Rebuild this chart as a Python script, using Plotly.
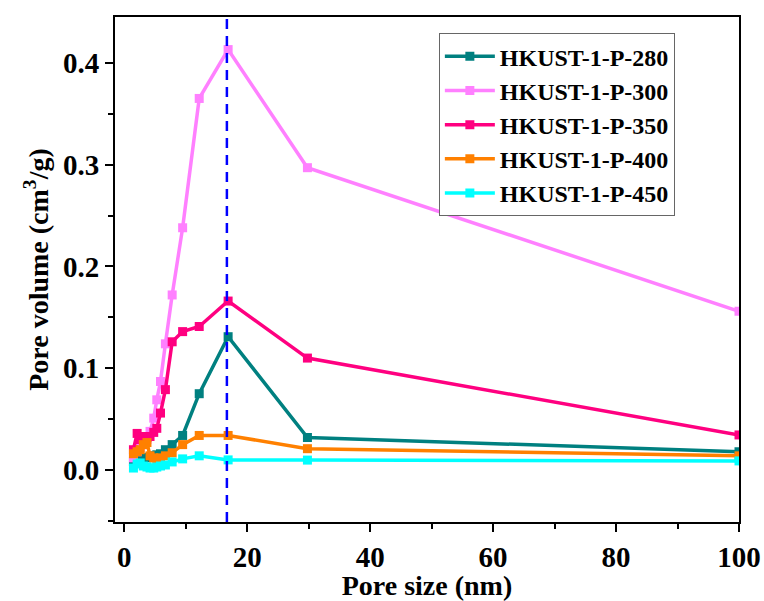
import plotly.graph_objects as go

pore_size = [1.5, 2.1, 2.6, 3.1, 3.7, 4.2, 4.8, 5.3, 5.9, 6.7, 7.8, 9.5, 12.2, 16.9, 29.8, 100]
series_names = ["HKUST-1-P-280", "HKUST-1-P-300", "HKUST-1-P-350", "HKUST-1-P-400", "HKUST-1-P-450"]
p280 = [0.008, 0.010, 0.011, 0.012, 0.012, 0.013, 0.014, 0.015, 0.016, 0.020, 0.025, 0.034, 0.075, 0.131, 0.032, 0.018]
p300 = [0.012, 0.018, 0.022, 0.025, 0.030, 0.038, 0.051, 0.069, 0.087, 0.124, 0.172, 0.238, 0.365, 0.413, 0.297, 0.156]
p350 = [0.020, 0.036, 0.030, 0.033, 0.032, 0.033, 0.037, 0.041, 0.056, 0.079, 0.126, 0.136, 0.141, 0.166, 0.110, 0.0345]
p400 = [0.016, 0.018, 0.020, 0.025, 0.027, 0.014, 0.012, 0.011, 0.012, 0.014, 0.017, 0.025, 0.034, 0.034, 0.021, 0.014]
p450 = [0.002, 0.006, 0.007, 0.004, 0.003, 0.002, 0.002, 0.003, 0.004, 0.005, 0.008, 0.011, 0.014, 0.010, 0.0098, 0.009]
colors = ["#008080", "#FF80FF", "#FF0080", "#FF8000", "#00FFFF"]
peak_x = 16.7

fig = go.Figure()
for name, vals, c in zip(series_names, [p280, p300, p350, p400, p450], colors):
    fig.add_trace(go.Scatter(x=pore_size, y=vals, name=name, mode="lines+markers",
                             line=dict(color=c, width=3.5),
                             marker=dict(symbol="square", size=9, color=c)))

fig.add_shape(type="line", x0=peak_x, x1=peak_x, y0=0, y1=1, xref="x", yref="paper",
              line=dict(color="#0000FF", width=2.5, dash="10px,7px"))

font = "Liberation Serif"
fig.update_layout(
    width=764, height=601,
    margin=dict(l=115, r=25, t=17, b=79),
    plot_bgcolor="white", paper_bgcolor="white",
    font=dict(family=font, size=20, color="black"),
    showlegend=True,
    legend=dict(x=0.519, y=0.968, xanchor="left", yanchor="top",
                bgcolor="white", bordercolor="#666666", borderwidth=1,
                font=dict(family=font, size=24, color="black", weight="bold"),
                itemwidth=50, tracegroupgap=0),
)
fig.update_xaxes(range=[-1.5, 100], tickvals=[0, 20, 40, 60, 80, 100], automargin=False,
                 ticks="outside", ticklen=8, tickwidth=2, tickcolor="black",
                 minor=dict(ticks="outside", tickvals=[10, 30, 50, 70, 90], ticklen=5, tickwidth=2, tickcolor="black"),
                 showline=True, linewidth=2, linecolor="black", mirror=True,
                 showgrid=False, zeroline=False,
                 tickfont=dict(family=font, size=29, weight="bold"),
                 title=dict(text="Pore size (nm)", font=dict(family=font, size=28, weight="bold"), standoff=4))
fig.update_yaxes(range=[-0.051, 0.445], tickvals=[0.0, 0.1, 0.2, 0.3, 0.4], ticktext=["0.0", "0.1", "0.2", "0.3", "0.4"],
                 automargin=False,
                 ticks="outside", ticklen=8, tickwidth=2, tickcolor="black",
                 minor=dict(ticks="outside", tickvals=[-0.05, 0.05, 0.15, 0.25, 0.35], ticklen=5, tickwidth=2, tickcolor="black"),
                 showline=True, linewidth=2, linecolor="black", mirror=True,
                 showgrid=False, zeroline=False,
                 tickfont=dict(family=font, size=29, weight="bold"),
                 title=dict(text="Pore volume (cm<sup>3</sup>/g)", font=dict(family=font, size=28, weight="bold"), standoff=6))

fig.write_html("out.html")
